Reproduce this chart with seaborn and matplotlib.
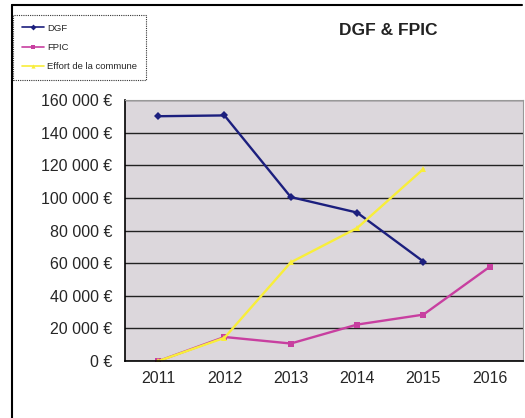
import numpy as np
import pandas as pd
import seaborn as sns
import matplotlib.pyplot as plt
from matplotlib.lines import Line2D

years = ['2011', '2012', '2013', '2014', '2015', '2016']
dgf = [150000, 150500, 100500, 91000, 61000, np.nan]
fpic = [0, 14800, 10800, 22400, 28500, 57800]
effort = [0, 14300, 60500, 81500, 117700, np.nan]
series_names = ['DGF', 'FPIC', 'Effort de la commune']

df = pd.DataFrame({'annee': years, 'DGF': dgf, 'FPIC': fpic,
                   'Effort de la commune': effort})
long_df = df.melt(id_vars='annee', var_name='serie', value_name='montant').dropna()

sns.set_style('white')
plt.rcParams['font.family'] = ['Liberation Sans', 'DejaVu Sans']

colors = {'DGF': '#1c1f7e', 'FPIC': '#c83fa0', 'Effort de la commune': '#f8ee3a'}
markers = {'DGF': 'D', 'FPIC': 's', 'Effort de la commune': '^'}

fig = plt.figure(figsize=(5.25, 4.18), dpi=100)
ax = fig.add_axes([0.238, 0.136, 0.758, 0.625])
ax.set_facecolor('#dcd7dc')

sns.lineplot(data=long_df, x='annee', y='montant', hue='serie', style='serie',
             palette=colors, markers=markers, dashes=False, markersize=4.5,
             markeredgewidth=0, linewidth=1.7, sort=False, ax=ax, legend=False)

ax.set_xlim(-0.5, 5.5)
ax.set_ylim(0, 160000)
ax.set_yticks(range(0, 160001, 20000))
ax.set_yticklabels([f'{v:,.0f} €'.replace(',', ' ') for v in range(0, 160001, 20000)],
                   fontsize=11.5)
ax.set_xticks(range(6))
ax.set_xticklabels(years, fontsize=11.5)
ax.set_xticks(np.arange(-0.5, 6.0, 1), minor=True)
ax.tick_params(axis='x', which='major', length=0, pad=7)
ax.tick_params(axis='x', which='minor', length=4, direction='out', color='black')
ax.tick_params(axis='y', length=6, direction='out', color='black', pad=3)
ax.yaxis.grid(True, color='#222222', linewidth=1)
ax.set_axisbelow(True)
ax.set_xlabel('')
ax.set_ylabel('')
for side in ['left', 'bottom']:
    ax.spines[side].set_color('black')
    ax.spines[side].set_linewidth(1.2)
for side in ['top', 'right']:
    ax.spines[side].set_color('#999999')
    ax.spines[side].set_linewidth(0.8)

handles = [Line2D([], [], color=colors[n], marker=markers[n], markersize=3,
                  markeredgewidth=0, linewidth=1.2) for n in series_names]
leg = fig.legend(handles, series_names, loc='upper left',
                 bbox_to_anchor=(0.025, 0.964), fontsize=6.8, frameon=True,
                 fancybox=False, edgecolor='black', handlelength=2.4,
                 labelspacing=1.1, borderpad=0.9, handletextpad=0.3,
                 borderaxespad=0)
leg.get_frame().set_linewidth(0.8)
leg.get_frame().set_linestyle((0, (1, 1)))

fig.text(0.74, 0.928, 'DGF & FPIC', fontsize=12.5, fontweight='bold',
         ha='center', va='center', color='#222222')

# cadre de la figure (gauche et haut)
fig.add_artist(Line2D([0.023, 0.023], [0.0, 0.988], color='black', linewidth=1.5))
fig.add_artist(Line2D([0.023, 0.995], [0.988, 0.988], color='black', linewidth=1.5))

fig.savefig('out.png', dpi=100)
